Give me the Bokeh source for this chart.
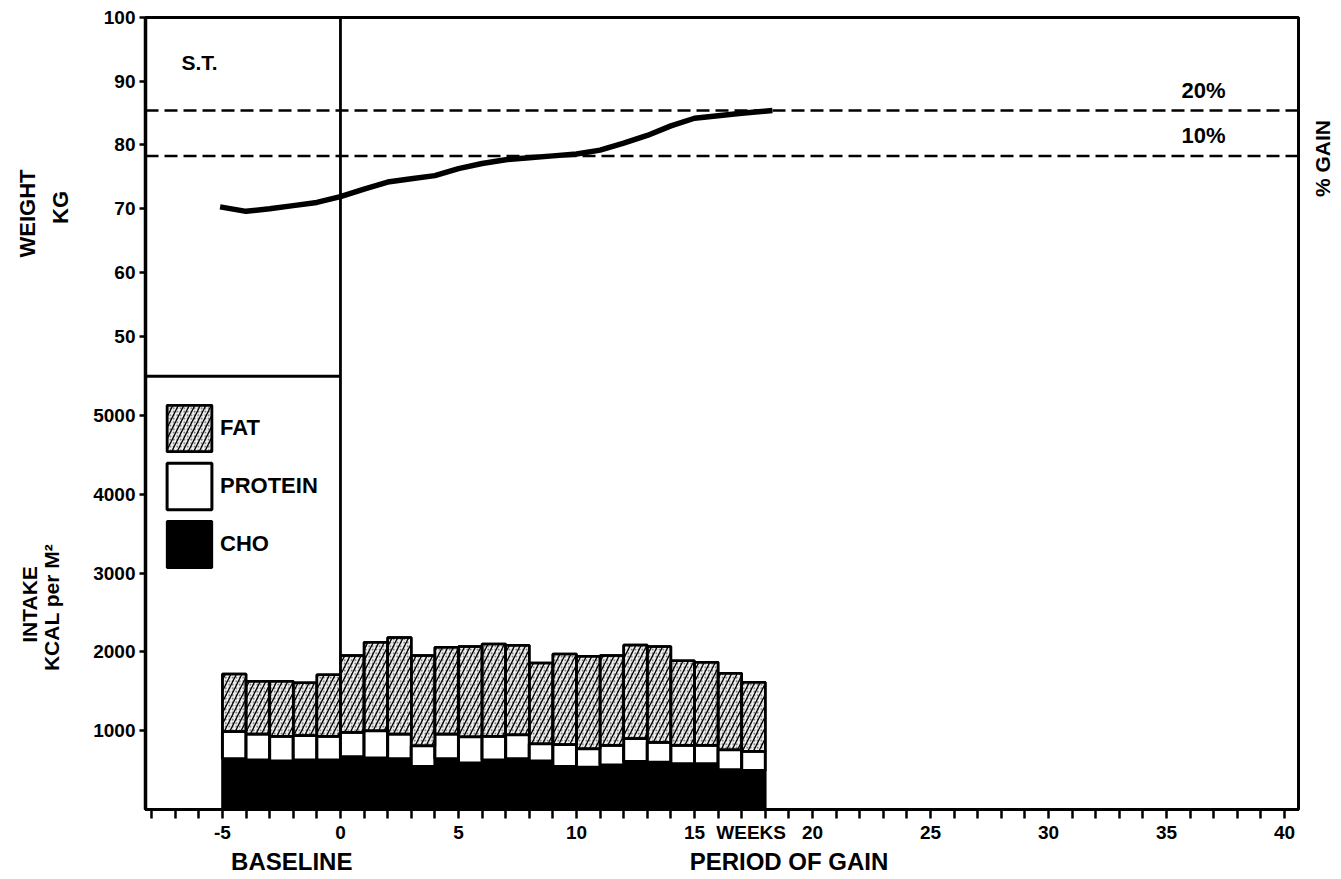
import math
import numpy as np
from bokeh.plotting import figure
from bokeh.layouts import row, column
from bokeh.models import (Range1d, FixedTicker, Label, Span, Legend, LegendItem,
                          ColumnDataSource)
from bokeh.embed import file_html
from bokeh.resources import INLINE

# ---------------- data ----------------
# week at which each weekly intake bar starts (baseline -5..-1, gain period 0..17)
bar_weeks = [-5, -4, -3, -2, -1, 0, 1, 2, 3, 4, 5, 6, 7, 8, 9, 10, 11, 12, 13, 14, 15, 16, 17]
# kcal per m2 per component
cho_kcal = [645, 630, 615, 630, 630, 670, 655, 645, 545, 645, 590, 630, 645, 615, 545, 535,
            565, 610, 600, 580, 580, 505, 495]
protein_kcal = [345, 330, 315, 310, 300, 310, 345, 315, 265, 315, 335, 300, 305, 220, 280, 235,
                250, 290, 255, 235, 235, 255, 245]
fat_kcal = [730, 670, 700, 670, 780, 975, 1125, 1225, 1145, 1100, 1145, 1170, 1135, 1025, 1150,
            1175, 1140, 1190, 1215, 1075, 1055, 970, 875]

# body weight curve
weight_weeks = [-5.1, -4, -3, -2, -1, 0, 1, 2, 3, 4, 5, 6, 7, 8, 9, 10, 11, 12, 13, 14, 15, 16,
                17, 18.3]
weight_kg = [70.3, 69.6, 70.0, 70.5, 71.0, 71.9, 73.1, 74.2, 74.7, 75.2, 76.3, 77.1, 77.7, 78.0,
             78.3, 78.6, 79.2, 80.3, 81.5, 83.0, 84.2, 84.6, 85.0, 85.4]

gain_levels = [78.3, 85.4]          # 10 % and 20 % weight gain
gain_labels = ["10%", "20%"]

x_ticks = [-5, 0, 5, 10, 15, 20, 25, 30, 35, 40]
x_tick_labels = ["-5", "0", "5", "10", "15", "20", "25", "30", "35", "40"]
weeks_label_at = 17.4
weight_ticks = [50, 60, 70, 80, 90, 100]
intake_ticks = [1000, 2000, 3000, 4000, 5000]

# ---------------- layout constants ----------------
X_LO, X_HI = -8.26, 40.59
Y_TOP = 10057            # intake units at top of frame
W_LO, W_HI = -24.2, 100  # weight units spanning whole frame
SPLIT = 5500             # intake value where the left column splits
FONT = "Liberation Sans"
TOTAL_H = 876
MAIN_H = 847

def w2i(w):
    return (w - W_LO) / (W_HI - W_LO) * Y_TOP

# stacks
cho = np.array(cho_kcal, float)
prot_top = cho + np.array(protein_kcal, float)
fat_top = prot_top + np.array(fat_kcal, float)
centers = np.array(bar_weeks, float) + 0.5
src = ColumnDataSource(dict(x=centers, cho=cho, prot=prot_top, fat=fat_top,
                            zero=np.zeros_like(cho)))

p = figure(width=1222, height=MAIN_H, output_backend="svg", toolbar_location=None,
           x_range=Range1d(X_LO, X_HI), y_range=Range1d(0, Y_TOP),
           min_border_left=65, min_border_right=4, min_border_top=17, min_border_bottom=38)
p.extra_y_ranges = {"weight": Range1d(W_LO, W_HI)}
p.grid.visible = False
p.outline_line_color = "black"
p.outline_line_width = 3
p.background_fill_color = "white"
p.border_fill_color = "white"

# bars
r_cho = p.vbar(x="x", width=1, bottom="zero", top="cho", source=src,
               fill_color="black", line_color="black", line_width=2.5)
r_prot = p.vbar(x="x", width=1, bottom="cho", top="prot", source=src,
                fill_color="white", line_color="black", line_width=3)
r_fat1 = p.vbar(x="x", width=1, bottom="prot", top="fat", source=src,
                fill_color="#efefef", hatch_pattern=".", hatch_color="#555555",
                hatch_scale=3.5, hatch_weight=1, line_color="black", line_width=2.5)
r_fat2 = p.vbar(x="x", width=1, bottom="prot", top="fat", source=src,
                fill_color=None, hatch_pattern="/", hatch_color="black",
                hatch_scale=11, hatch_weight=1.3, line_color="black", line_width=2.5)

# structural lines
i0 = bar_weeks.index(0)
p.segment(x0=[0], y0=[fat_top[i0]], x1=[0], y1=[Y_TOP], line_color="black", line_width=2.8)
p.segment(x0=[X_LO], y0=[SPLIT], x1=[0], y1=[SPLIT], line_color="black", line_width=3)

# gain reference lines
for lvl in gain_levels:
    p.add_layout(Span(location=lvl, dimension="width", y_range_name="weight",
                      line_color="black", line_width=2.5, line_dash="13 6"))

# weight curve
p.line(weight_weeks, weight_kg, y_range_name="weight", line_color="black", line_width=5.5)

# axes
xa = p.xaxis[0]
xa.ticker = FixedTicker(ticks=x_ticks + [weeks_label_at], minor_ticks=list(range(-8, 41)))
xo = {t: s for t, s in zip(x_ticks, x_tick_labels)}
xo[weeks_label_at] = "WEEKS"
xa.major_label_overrides = xo
xa.axis_line_width = 3
xa.major_tick_out = 0
xa.major_tick_in = 0
xa.minor_tick_out = 9
xa.minor_tick_in = 0
xa.minor_tick_line_width = 2.5
xa.major_label_text_font = FONT
xa.major_label_text_font_style = "bold"
xa.major_label_text_font_size = "19px"
xa.major_label_text_color = "black"
xa.major_label_standoff = 3

ya = p.yaxis[0]
wpos = [int(round(w2i(w))) for w in weight_ticks]
ya.ticker = FixedTicker(ticks=intake_ticks + wpos, minor_ticks=[])
overrides = {t: str(t) for t in intake_ticks}
overrides.update({pos: str(w) for pos, w in zip(wpos, weight_ticks)})
ya.major_label_overrides = overrides
ya.axis_line_width = 3.5
ya.major_tick_out = 6
ya.major_tick_in = 0
ya.major_tick_line_width = 2.5
ya.major_label_text_font = FONT
ya.major_label_text_font_style = "bold"
ya.major_label_text_font_size = "19px"
ya.major_label_text_color = "black"
ya.major_label_standoff = 4

# legend
legend = Legend(items=[LegendItem(label="FAT", renderers=[r_fat1, r_fat2]),
                       LegendItem(label="PROTEIN", renderers=[r_prot]),
                       LegendItem(label="CHO", renderers=[r_cho])],
                location=(16, 236), glyph_width=56, glyph_height=58, spacing=-1,
                padding=0, margin=0, label_standoff=3,
                border_line_alpha=0, background_fill_alpha=0,
                label_text_font=FONT, label_text_font_style="bold",
                label_text_font_size="22px", label_text_color="black")
p.add_layout(legend)


def lab(fig, x, y, text, size="22px", angle=0.0, range_name="default"):
    fig.add_layout(Label(x=x, y=y, text=text, y_range_name=range_name, angle=angle,
                         text_font=FONT, text_font_style="bold", text_font_size=size,
                         text_color="black", text_align="center", text_baseline="middle"))

lab(p, -5.97, 92.9, "S.T.", size="21px", range_name="weight")
for lvl, t in zip(gain_levels, gain_labels):
    lab(p, 36.57, lvl + 3.2, t, size="22px", range_name="weight")


def strip(w, h, xr, yr):
    s = figure(width=w, height=h, output_backend="svg", toolbar_location=None,
               x_range=Range1d(*xr), y_range=Range1d(*yr),
               x_axis_location=None, y_axis_location=None,
               min_border_left=0, min_border_right=0, min_border_top=0, min_border_bottom=0)
    s.grid.visible = False
    s.outline_line_color = None
    s.background_fill_color = "white"
    s.border_fill_color = "white"
    return s

# strips carrying the outer titles (ranges are page pixel positions)
left = strip(80, TOTAL_H, (0, 80), (TOTAL_H, 0))
lab(left, 27, 213, "WEIGHT", size="22px", angle=math.pi / 2)
lab(left, 60, 207, "KG", size="22px", angle=math.pi / 2)
lab(left, 29, 604, "INTAKE", size="21px", angle=math.pi / 2)
lab(left, 51, 607, "KCAL per M²", size="21px", angle=math.pi / 2)

bottom = strip(1222, TOTAL_H - MAIN_H, (80, 1302), (TOTAL_H, MAIN_H))
lab(bottom, 235, 861, "BASELINE", size="24px")
lab(bottom, 762, 861, "PERIOD OF GAIN", size="24px")

right = strip(36, TOTAL_H, (1302, 1338), (TOTAL_H, 0))
lab(right, 1322, 158, "% GAIN", size="21px", angle=math.pi / 2)

layout = row(left, column(p, bottom), right)
open("out.html", "w").write(file_html(layout, INLINE))
